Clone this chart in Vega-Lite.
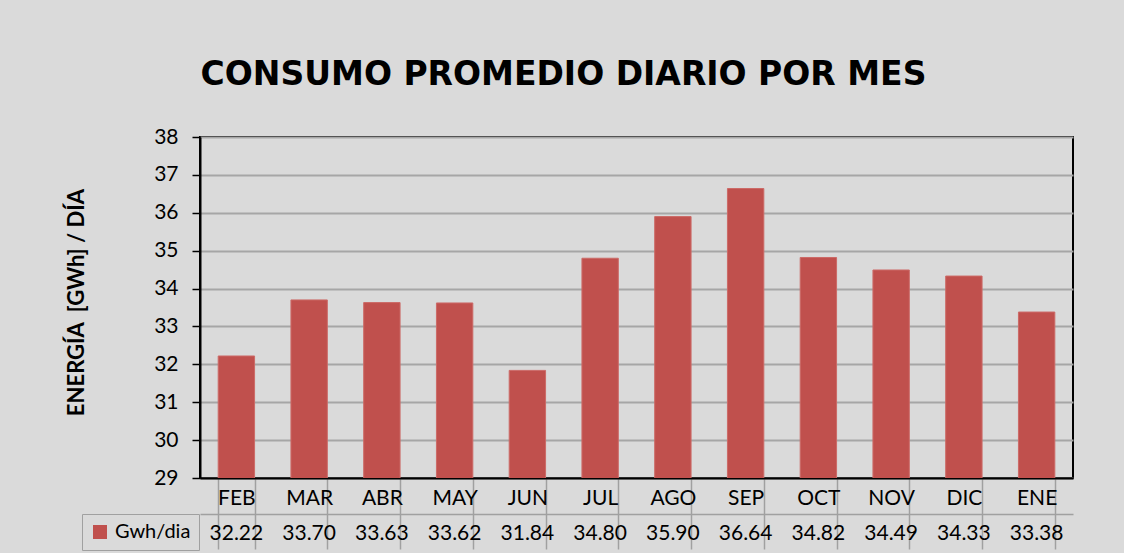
{
  "$schema": "https://vega.github.io/schema/vega-lite/v6.json",
  "autosize": {"type": "none"},
  "width": 873,
  "height": 341,
  "padding": {"left": 200, "top": 137, "right": 51, "bottom": 75},
  "background": "#dadada",
  "title": {
    "text": "CONSUMO PROMEDIO DIARIO POR MES",
    "font": "DejaVu Sans",
    "fontWeight": "bold",
    "fontSize": 33,
    "color": "#000000",
    "anchor": "middle",
    "frame": "group",
    "dx": -73,
    "dy": 6,
    "offset": 40
  },
  "data": {
    "values": [
      {"mes": "FEB", "valor": 32.22},
      {"mes": "MAR", "valor": 33.70},
      {"mes": "ABR", "valor": 33.63},
      {"mes": "MAY", "valor": 33.62},
      {"mes": "JUN", "valor": 31.84},
      {"mes": "JUL", "valor": 34.80},
      {"mes": "AGO", "valor": 35.90},
      {"mes": "SEP", "valor": 36.64},
      {"mes": "OCT", "valor": 34.82},
      {"mes": "NOV", "valor": 34.49},
      {"mes": "DIC", "valor": 34.33},
      {"mes": "ENE", "valor": 33.38}
    ]
  },
  "encoding": {
    "y": {
      "field": "valor",
      "type": "quantitative",
      "scale": {"domain": [29, 38], "zero": false, "nice": false},
      "axis": {
        "title": "ENERGÍA\u00a0 [GWh] / DÍA",
        "titleFont": "Lato",
        "titleFontWeight": "bold",
        "titleFontSize": 22,
        "titleColor": "#000000",
        "titlePadding": 65,
        "titleY": 165,
        "values": [29, 30, 31, 32, 33, 34, 35, 36, 37, 38],
        "labelOverlap": false,
        "labelFont": "Lato",
        "labelFontSize": 21,
        "labelColor": "#000000",
        "labelPadding": 14,
        "tickSize": 8,
        "tickColor": "#000000",
        "tickWidth": 1.5,
        "domainColor": "#000000",
        "domainWidth": 2,
        "grid": true,
        "gridColor": "#a6a6a6",
        "gridWidth": 2
      }
    }
  },
  "layer": [
    {
      "mark": {"type": "bar", "clip": true, "stroke": "#cc6a67", "strokeWidth": 1},
      "encoding": {
        "x": {
          "field": "mes",
          "type": "nominal",
          "sort": null,
          "scale": {"paddingInner": 0.5, "paddingOuter": 0.25},
          "axis": {
            "title": null,
            "orient": "bottom",
            "labelAngle": 0,
            "labelFont": "Lato",
            "labelFontSize": 21,
            "labelColor": "#000000",
            "labelPadding": -62,
            "domain": true,
            "domainColor": "#000000",
            "domainWidth": 2,
            "ticks": true,
            "tickBand": "extent",
            "tickSize": 71,
            "tickColor": "#a0a0a0",
            "tickWidth": 1.5,
            "grid": false
          }
        },
        "color": {
          "datum": "Gwh/dia",
          "type": "nominal",
          "scale": {"range": ["#C0504D"]},
          "legend": {
            "title": null,
            "orient": "none",
            "legendX": -118,
            "legendY": 377,
            "padding": 8,
            "strokeColor": "#a0a0a0",
            "symbolType": "square",
            "symbolSize": 196,
            "symbolStrokeWidth": 0,
            "labelFont": "Lato",
            "labelFontSize": 20,
            "labelColor": "#000000",
            "labelOffset": 5
          }
        }
      }
    },
    {
      "mark": {"type": "bar", "opacity": 0, "clip": true},
      "encoding": {
        "x": {
          "field": "valor",
          "type": "ordinal",
          "sort": null,
          "scale": {"paddingInner": 0.5, "paddingOuter": 0.25},
          "axis": {
            "title": null,
            "orient": "bottom",
            "offset": 36,
            "labelExpr": "format(datum.value, '.2f')",
            "labelAngle": 0,
            "labelFont": "Lato",
            "labelFontSize": 21,
            "labelColor": "#000000",
            "labelPadding": 8,
            "domain": true,
            "domainColor": "#a0a0a0",
            "domainWidth": 1.5,
            "ticks": false,
            "grid": false
          }
        }
      }
    }
  ],
  "resolve": {"scale": {"x": "independent"}, "axis": {"x": "independent"}},
  "config": {
    "view": {"stroke": "#000000", "strokeWidth": 2},
    "bar": {"color": "#C0504D"}
  }
}
